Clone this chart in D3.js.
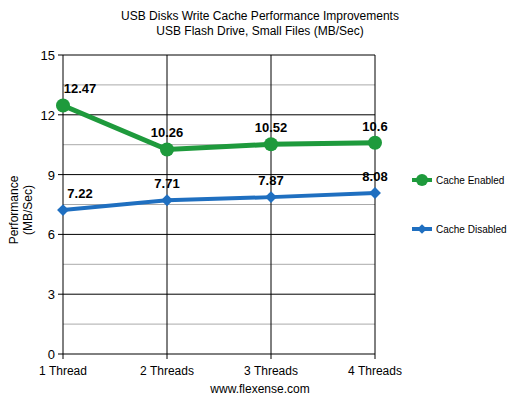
<!DOCTYPE html><html><head><meta charset="utf-8"><script src="https://cdn.jsdelivr.net/npm/d3@7"></script>
<style>body{margin:0;background:#fff}text{font-family:"Liberation Sans",Arial,sans-serif}</style></head><body><svg width="520" height="401"></svg><script>
const categories=["1 Thread","2 Threads","3 Threads","4 Threads"];
const enabled=[12.47,10.26,10.52,10.6];
const disabled=[7.22,7.71,7.87,8.08];
const yTicks=[0,3,6,9,12,15];
const minorTicks=[1.5,4.5,7.5,10.5,13.5];
const svg=d3.select("svg");
const L=63,R=375,T=55,B=354;
const x=d3.scalePoint().domain(categories).range([L,R]);
const y=d3.scaleLinear().domain([0,15]).range([B,T]);
svg.selectAll(".mn").data(minorTicks).join("line").attr("x1",L).attr("x2",R).attr("y1",d=>y(d)).attr("y2",d=>y(d)).attr("stroke","#aaa");
svg.selectAll(".mj").data(yTicks).join("line").attr("x1",L-5).attr("x2",R).attr("y1",d=>y(d)).attr("y2",d=>y(d)).attr("stroke","#000");
svg.selectAll(".vl").data(categories).join("line").attr("x1",d=>x(d)).attr("x2",d=>x(d)).attr("y1",T).attr("y2",B+5).attr("stroke","#000");
svg.selectAll(".yt").data(yTicks).join("text").attr("x",L-8).attr("y",d=>y(d)+5).attr("text-anchor","end").attr("font-size",13).text(d=>d);
svg.selectAll(".xt").data(categories).join("text").attr("x",d=>x(d)).attr("y",B+21).attr("text-anchor","middle").attr("font-size",12).text(d=>d);
svg.append("text").attr("x",260).attr("y",20).attr("text-anchor","middle").attr("font-size",12).text("USB Disks Write Cache Performance Improvements");
svg.append("text").attr("x",260).attr("y",35).attr("text-anchor","middle").attr("font-size",12).text("USB Flash Drive, Small Files (MB/Sec)");
svg.append("text").attr("x",260).attr("y",393).attr("text-anchor","middle").attr("font-size",12).text("www.flexense.com");
svg.append("text").attr("transform","translate(18,210) rotate(-90)").attr("text-anchor","middle").attr("font-size",12).text("Performance");
svg.append("text").attr("transform","translate(32,210) rotate(-90)").attr("text-anchor","middle").attr("font-size",12).text("(MB/Sec)");
const line=d3.line().x((d,i)=>x(categories[i])).y(d=>y(d));
svg.append("path").attr("d",line(enabled)).attr("fill","none").attr("stroke","#1e9a3c").attr("stroke-width",5);
svg.append("path").attr("d",line(disabled)).attr("fill","none").attr("stroke","#1f6fc0").attr("stroke-width",4);
svg.selectAll(".ce").data(enabled).join("circle").attr("cx",(d,i)=>x(categories[i])).attr("cy",d=>y(d)).attr("r",7).attr("fill","#1e9a3c");
svg.selectAll(".cd").data(disabled).join("path").attr("d",d3.symbol(d3.symbolDiamond2,90)()).attr("transform",(d,i)=>`translate(${x(categories[i])},${y(d)})`).attr("fill","#1f6fc0");
const lab=(arr)=>svg.selectAll(null).data(arr).join("text").attr("x",(d,i)=>x(categories[i])+(i==0?17:0)).attr("y",d=>y(d)-12).attr("text-anchor","middle").attr("font-size",13).attr("font-weight","bold").text(d=>d);
lab(enabled);lab(disabled);
svg.append("line").attr("x1",412).attr("x2",432).attr("y1",180).attr("y2",180).attr("stroke","#1e9a3c").attr("stroke-width",4);
svg.append("circle").attr("cx",422).attr("cy",180).attr("r",6).attr("fill","#1e9a3c");
svg.append("text").attr("x",436).attr("y",184).attr("font-size",10).text("Cache Enabled");
svg.append("line").attr("x1",412).attr("x2",432).attr("y1",229).attr("y2",229).attr("stroke","#1f6fc0").attr("stroke-width",4);
svg.append("path").attr("d",d3.symbol(d3.symbolDiamond2,60)()).attr("transform","translate(422,229)").attr("fill","#1f6fc0");
svg.append("text").attr("x",436).attr("y",233).attr("font-size",10).text("Cache Disabled");
</script></body></html>
